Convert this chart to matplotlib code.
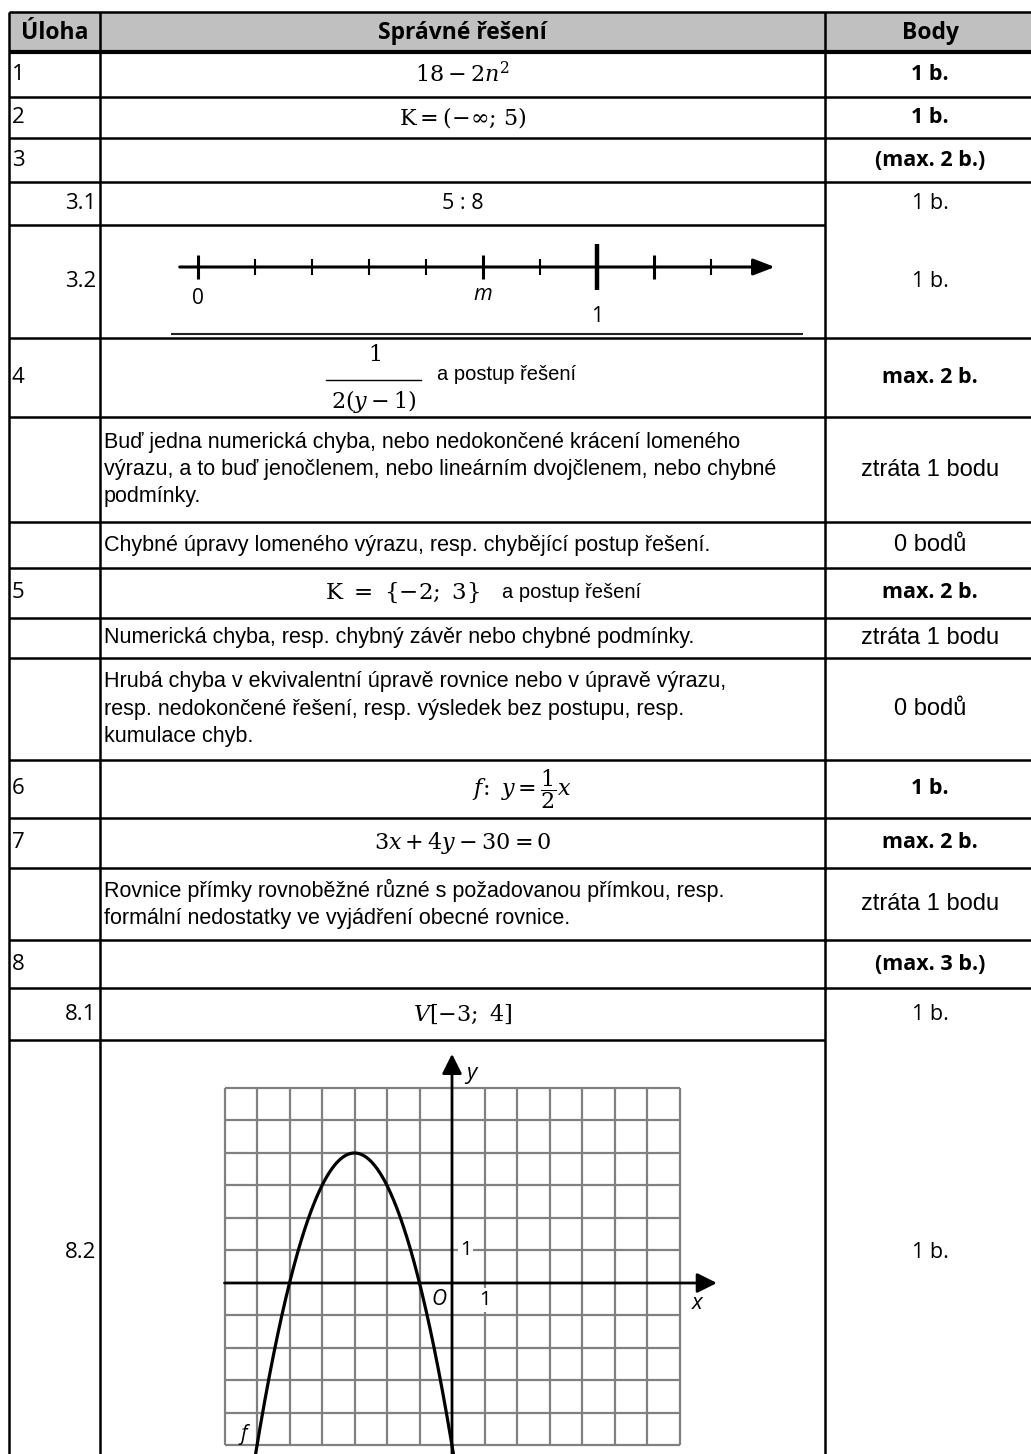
import numpy as np
import matplotlib
matplotlib.use("Agg")
import matplotlib.pyplot as plt
from matplotlib.patches import Rectangle

plt.rcParams['font.family'] = ['Open Sans', 'DejaVu Sans']
plt.rcParams['mathtext.fontset'] = 'dejavuserif'

# ---------------- data ----------------
header = ["Úloha", "Správné řešení", "Body"]
task_labels = ["1", "2", "3", "3.1", "3.2", "4", "", "", "5", "", "", "6", "7", "", "8", "8.1", "8.2"]
solutions = [
    r"$18 - 2n^2$",
    r"$\mathrm{K} = (-\infty;\, 5)$",
    "",
    "5 : 8",
    "NUMBERLINE",
    "FRACTION4",
    "Buď jedna numerická chyba, nebo nedokončené krácení lomeného\nvýrazu, a to buď jenočlenem, nebo lineárním dvojčlenem, nebo chybné\npodmínky.",
    "Chybné úpravy lomeného výrazu, resp. chybějící postup řešení.",
    "ROW5",
    "Numerická chyba, resp. chybný závěr nebo chybné podmínky.",
    "Hrubá chyba v ekvivalentní úpravě rovnice nebo v úpravě výrazu,\nresp. nedokončené řešení, resp. výsledek bez postupu, resp.\nkumulace chyb.",
    r"$f\!:\ y = \dfrac{1}{2}x$",
    r"$3x + 4y - 30 = 0$",
    "Rovnice přímky rovnoběžné různé s požadovanou přímkou, resp.\nformální nedostatky ve vyjádření obecné rovnice.",
    "",
    r"$V[-3;\ 4]$",
    "GRAPH",
]
points = ["1 b.", "1 b.", "(max. 2 b.)", "1 b.", "1 b.", "max. 2 b.", "ztráta 1 bodu", "0 bodů",
          "max. 2 b.", "ztráta 1 bodu", "0 bodů", "1 b.", "max. 2 b.", "ztráta 1 bodu",
          "(max. 3 b.)", "1 b.", "1 b."]
points_bold = [True, True, True, False, False, True, False, False, True, False, False, True, True,
               False, True, False, False]
points_arial = [False, False, False, False, False, False, True, True, False, True, True, False, False,
                True, False, False, False]

# number line (task 3.2)
nl_ticks = [0, 1, 2, 3, 4, 5, 6, 7, 8, 9]
nl_tick_kind = ["mid", "small", "small", "small", "small", "mid", "small", "big", "mid", "small"]
nl_labels = {0: "0", 5: "m", 7: "1"}

# parabola (task 8.2): vertex V[-3; 4], leading coefficient -1
vertex_x, vertex_y, lead_a = -3, 4, -1
grid_x = list(range(-7, 8))
grid_y = list(range(-5, 7))

# ---------------- layout ----------------
W, H = 1031, 1454
fig = plt.figure(figsize=(W / 100, H / 100), dpi=100)
ax = fig.add_axes([0, 0, 1, 1])
ax.set_xlim(0, W)
ax.set_ylim(H, 0)
ax.axis('off')


def px_axes(x0, x1, y0, y1):
    return fig.add_axes([x0 / W, 1 - y1 / H, (x1 - x0) / W, (y1 - y0) / H])


XL, X1, X2, XR = 9, 100, 825, 1036
YT, YH = 12, 52
row_bottoms = [97, 138, 182, 225, 338, 417, 522, 568, 618, 658, 760, 818, 868, 940, 988, 1040, 1460]
row_tops = [YH] + row_bottoms[:-1]
no_col3_line = {3, 15}

LW = 1.8
ax.add_patch(Rectangle((XL, YT), XR - XL, YH - YT, facecolor='#c0c0c0', edgecolor='none', zorder=0))
ax.plot([XL, XR], [YT, YT], color='k', lw=LW, solid_capstyle='butt')
ax.plot([XL, XR], [YH, YH], color='k', lw=3.0, solid_capstyle='butt')
for xv in (XL, X1, X2, XR):
    ax.plot([xv, xv], [YT, H], color='k', lw=LW, solid_capstyle='butt')
for i, yb in enumerate(row_bottoms[:-1]):
    if i in no_col3_line:
        ax.plot([XL, X2], [yb, yb], color='k', lw=LW, solid_capstyle='butt')
    else:
        ax.plot([XL, XR], [yb, yb], color='k', lw=LW, solid_capstyle='butt')

# header
HFS = 16.5
ax.text((XL + X1) / 2, (YT + YH) / 2 + 1, header[0], ha='center', va='center', fontsize=HFS, fontweight='bold')
ax.text((X1 + X2) / 2, (YT + YH) / 2 + 1, header[1], ha='center', va='center', fontsize=HFS, fontweight='bold')
ax.text(930, (YT + YH) / 2 + 1, header[2], ha='center', va='center', fontsize=HFS, fontweight='bold')

ARIAL = ['Liberation Sans', 'DejaVu Sans']
CMID = (X1 + X2) / 2
MFS = 16
for i, (lab, sol, pt) in enumerate(zip(task_labels, solutions, points)):
    yc = (row_tops[i] + row_bottoms[i]) / 2
    if i == 16:
        yc = 1252
    if lab:
        if '.' in lab:
            ax.text(96, yc, lab, ha='right', va='center', fontsize=16)
        else:
            ax.text(12, yc, lab, ha='left', va='center', fontsize=16)
    # points column
    if points_arial[i]:
        ax.text(930, yc, pt, ha='center', va='center', fontsize=17, family=ARIAL)
    else:
        ax.text(930, yc, pt, ha='center', va='center', fontsize=15.5,
                fontweight='bold' if points_bold[i] else 'normal')
    # solution column
    if sol in ("", "NUMBERLINE", "GRAPH"):
        continue
    if sol == "FRACTION4":
        ax.text(374, yc - 22, r"$1$", ha='center', va='center', fontsize=MFS)
        ax.plot([326, 421], [yc + 2, yc + 2], color='k', lw=1.0)
        ax.text(374, yc + 24, r"$2(y-1)$", ha='center', va='center', fontsize=MFS)
        ax.text(437, yc - 3, "a postup řešení", ha='left', va='center', fontsize=14.5, family=ARIAL)
        continue
    if sol == "ROW5":
        ax.text(480, yc, r"$\mathrm{K}\ =\ \{-2;\ 3\}$", ha='right', va='center', fontsize=16.5)
        ax.text(502, yc, "a postup řešení", ha='left', va='center', fontsize=14.5, family=ARIAL)
        continue
    if i == 11:
        ax.text(522, yc, sol, ha='center', va='center', fontsize=MFS)
        continue
    if sol.startswith("$"):
        ax.text(CMID, yc, sol, ha='center', va='center', fontsize=MFS)
    elif "\n" in sol or len(sol) > 30:
        ax.text(104, yc, sol, ha='left', va='center', fontsize=15.5, family=ARIAL, linespacing=1.4)
    else:
        ax.text(CMID, yc, sol, ha='center', va='center', fontsize=15.5)

# ---------------- number line ----------------
nx = px_axes(171, 803, 198, 336)
nx.set_xlim((171 - 198) / 57, (803 - 198) / 57)
nx.set_ylim(267 - 336, 267 - 198)
nx.axis('off')
nx.annotate('', xy=(10.12, 0), xytext=(-0.32, 0),
            arrowprops=dict(arrowstyle='-|>,head_length=0.65,head_width=0.25', lw=2.2, color='k',
                            shrinkA=0, shrinkB=0, mutation_scale=20))
half = {"small": 8, "mid": 12, "big": 23}
wid = {"small": 1.5, "mid": 2.2, "big": 3.2}
for t, k in zip(nl_ticks, nl_tick_kind):
    nx.plot([t, t], [-half[k], half[k]], color='k', lw=wid[k], solid_capstyle='butt')
nx.text(0, -31, nl_labels[0], ha='center', va='center', fontsize=15)
nx.text(5, -28, nl_labels[5], ha='center', va='center', fontsize=15.5, style='italic')
nx.text(7, -50, nl_labels[7], ha='center', va='center', fontsize=15)
nx.plot([(171 - 198) / 57, (803 - 198) / 57], [-67, -67], color='#222222', lw=1.5)

# ---------------- parabola graph ----------------
cell = 32.5
ox, oy = 452, 1283
xl, xr = -7.6, 8.6
yb, yt = -5.4, 7.2
gx = px_axes(ox + xl * cell, ox + xr * cell, oy - yt * cell, oy - yb * cell)
gx.set_xlim(xl, xr)
gx.set_ylim(yb, yt)
gx.axis('off')
GC = '#808080'
for xv in grid_x:
    if xv != 0:
        gx.plot([xv, xv], [min(grid_y), max(grid_y)], color=GC, lw=1.6, zorder=1, solid_capstyle='butt')
for yv in grid_y:
    if yv != 0:
        gx.plot([min(grid_x), max(grid_x)], [yv, yv], color=GC, lw=1.6, zorder=1, solid_capstyle='butt')
gx.annotate('', xy=(8.15, 0), xytext=(-7, 0),
            arrowprops=dict(arrowstyle='-|>,head_length=0.6,head_width=0.3', lw=2.0, color='k',
                            shrinkA=0, shrinkB=0, mutation_scale=20), zorder=3)
gx.annotate('', xy=(0, 7.05), xytext=(0, -5.4),
            arrowprops=dict(arrowstyle='-|>,head_length=0.6,head_width=0.3', lw=2.0, color='k',
                            shrinkA=0, shrinkB=0, mutation_scale=20), zorder=3)
xs = np.linspace(-6.2, 0.2, 400)
ys = lead_a * (xs - vertex_x) ** 2 + vertex_y
gx.plot(xs, ys, color='k', lw=2.3, zorder=4)
bb = dict(facecolor='white', edgecolor='none', pad=1.5)
gx.text(0.42, 1, "1", ha='center', va='center', fontsize=14.5, bbox=bb, zorder=2)
gx.text(1, -0.52, "1", ha='center', va='center', fontsize=14.5, bbox=bb, zorder=2)
gx.text(-0.4, -0.5, "O", ha='center', va='center', fontsize=15, style='italic', zorder=2)
gx.text(7.55, -0.62, "x", ha='center', va='center', fontsize=16, style='italic', zorder=2)
gx.text(0.6, 6.45, "y", ha='center', va='center', fontsize=16, style='italic', zorder=2)
gx.text(-6.4, -4.66, "f", ha='center', va='center', fontsize=15, style='italic', zorder=2)

fig.savefig("out.png", dpi=100)
